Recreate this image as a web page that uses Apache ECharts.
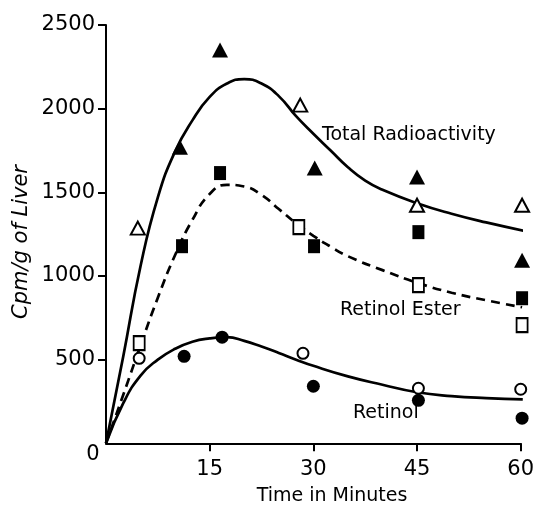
<!DOCTYPE html>
<html>
<head>
<meta charset="utf-8">
<script src="https://cdn.jsdelivr.net/npm/echarts@6.0.0/dist/echarts.min.js"></script>
<style>
html,body{margin:0;padding:0;background:#fff;}
#chart{width:538px;height:511px;}
</style>
</head>
<body>
<div id="chart"></div>
<script>
// axis ticks
var xTicks = [15, 30, 45, 60];
var yTicks = [500, 1000, 1500, 2000, 2500];

// measured points (minutes, cpm/g)
var totalFilledT = [10.7, 16.5, 30.2, 45, 60.2];
var totalFilledV = [1770, 2350, 1645, 1591, 1094];
var totalOpenT = [4.6, 28.1, 45, 60.2];
var totalOpenV = [1286, 2021, 1423, 1423];
var esterFilledT = [11, 16.5, 30.1, 45.2, 60.2];
var esterFilledV = [1178, 1615, 1178, 1262, 867];
var esterOpenT = [4.8, 27.9, 45.2, 60.2];
var esterOpenV = [598, 1292, 945, 706];
var retinolFilledT = [11.3, 16.8, 30, 45.2, 60.2];
var retinolFilledV = [520, 634, 341, 257, 150];
var retinolOpenT = [4.8, 28.5, 45.2, 60];
var retinolOpenV = [508, 538, 329, 323];

// fitted curves
var totalCurveT = [0, 2.5, 5, 7.5, 10, 12.5, 15, 17.5, 20, 22.5, 25, 27.5, 30, 32.5, 35, 37.5, 40, 45, 50, 55, 61.4];
var totalCurveV = [0, 520, 1060, 1470, 1745, 1930, 2070, 2150, 2177, 2150, 2075, 1955, 1850, 1750, 1650, 1570, 1515, 1435, 1372, 1320, 1262];
var esterCurveT = [0, 2.5, 5, 7.5, 10, 12.5, 15, 17.5, 20, 22.5, 25, 27.5, 30, 32.5, 35, 40, 45, 50, 55, 60.2];
var esterCurveV = [0, 290, 585, 870, 1125, 1335, 1490, 1545, 1535, 1485, 1400, 1315, 1240, 1175, 1118, 1035, 960, 900, 855, 813];
var retinolCurveT = [0, 2.5, 5, 7.5, 10, 12.5, 15, 17.5, 20, 22.5, 25, 27.5, 30, 35, 40, 45, 50, 55, 60.3];
var retinolCurveV = [0, 240, 405, 500, 565, 607, 627, 634, 612, 578, 540, 500, 463, 400, 350, 305, 282, 270, 263];

var fontName = 'DejaVu Sans';

function zip(t, v){
    var out = [];
    for(var i = 0; i < t.length; i++){
        out.push([t[i], v[i]]);
    }
    return out;
}

function curve(name, t, v, dashed){
    return {
        name: name,
        type: 'line',
        data: zip(t, v),
        smooth: 0.5,
        symbol: 'none',
        clip: false,
        z: 2,
        lineStyle: {
            color: '#000',
            width: 2.7,
            type: dashed ? [9, 6] : 'solid'
        }
    };
}

function points(name, t, v, symbol, size, open){
    return {
        name: name,
        type: 'scatter',
        data: zip(t, v),
        symbol: symbol,
        symbolSize: size,
        clip: false,
        z: 5,
        itemStyle: {
            color: open ? '#fff' : '#000',
            borderColor: '#000',
            borderWidth: open ? 2 : 0,
            opacity: 1
        }
    };
}

function textItem(str, x, y, size, align, rot, italic){
    return {
        type: 'text', x: x, y: y, rotation: rot || 0,
        style: {
            text: str, fill: '#000',
            fontFamily: fontName, fontSize: size,
            fontStyle: italic ? 'italic' : 'normal',
            align: align, verticalAlign: 'middle'
        }
    };
}

var myChart = echarts.init(document.getElementById('chart'));
var option = {
    backgroundColor: '#fff',
    animation: false,
    grid: {
        left: 106,
        right: 17.3,
        top: 25,
        bottom: 67.7
    },
    xAxis: {
        type: 'value',
        min: 0,
        max: 60,
        interval: 15,
        splitLine: {show: false},
        axisLine: {show: true, onZero: false, lineStyle: {color: '#000', width: 2}},
        axisTick: {show: true, customValues: xTicks, length: 8, lineStyle: {color: '#000', width: 2}},
        axisLabel: {customValues: xTicks, margin: 16, color: '#000', fontFamily: fontName, fontSize: 21,
            formatter: function(v){ return String(v); }}
    },
    yAxis: {
        type: 'value',
        min: 0,
        max: 2500,
        interval: 500,
        splitLine: {show: false},
        axisLine: {show: true, onZero: false, lineStyle: {color: '#000', width: 2}},
        axisTick: {show: true, customValues: yTicks, length: 8, lineStyle: {color: '#000', width: 2}},
        axisLabel: {customValues: yTicks, margin: 11, color: '#000', fontFamily: fontName, fontSize: 21,
            formatter: function(v){ return String(v); }}
    },
    graphic: [
        textItem('0', 93, 455, 21, 'center'),
        textItem('Cpm/g of Liver', 22, 242, 21, 'center', Math.PI / 2, true),
        textItem('Time in Minutes', 332, 496, 19, 'center'),
        textItem('Total Radioactivity', 322, 135, 19, 'left'),
        textItem('Retinol Ester', 340, 310, 19, 'left'),
        textItem('Retinol', 353, 413, 19, 'left')
    ],
    series: [
        curve('Total Radioactivity', totalCurveT, totalCurveV, false),
        curve('Retinol Ester', esterCurveT, esterCurveV, true),
        curve('Retinol', retinolCurveT, retinolCurveV, false),
        points('Total A', totalFilledT, totalFilledV, 'triangle', [16, 15], false),
        points('Total B', totalOpenT, totalOpenV, 'triangle', [14, 13], true),
        points('Ester A', esterFilledT, esterFilledV, 'rect', [12, 14], false),
        points('Ester B', esterOpenT, esterOpenV, 'rect', [11, 14], true),
        points('Retinol A', retinolFilledT, retinolFilledV, 'circle', 13, false),
        points('Retinol B', retinolOpenT, retinolOpenV, 'circle', 11, true)
    ]
};
myChart.setOption(option);
</script>
</body>
</html>
